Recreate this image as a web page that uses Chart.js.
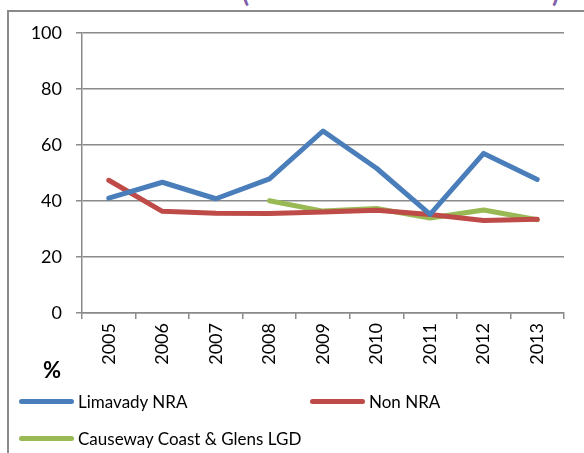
<!DOCTYPE html>
<html lang="en">
<head>
    <meta charset="UTF-8">
    <title>Limavady NRA vs Non NRA</title>
    <script src="https://cdn.jsdelivr.net/npm/chart.js@4"></script>
    <style>
        body {
            margin: 0;
            background: #ffffff;
            font-family: 'Lato', 'Liberation Sans', sans-serif;
            color: #000;
        }
        .wrap {
            position: relative;
            width: 584px;
            height: 453px;
            overflow: hidden;
        }
        .frame {
            position: absolute;
            left: 7px;
            top: 10px;
            width: 600px;
            height: 460px;
            border-left: 2px solid #8a8a8a;
            border-top: 2px solid #8a8a8a;
            box-sizing: border-box;
        }
        .title-cut {
            position: absolute;
            top: -24px;
            font-size: 26px;
            font-weight: 700;
            color: #7f5fa8;
        }
        canvas {
            position: absolute;
            left: 0;
            top: 0;
        }
        .pct {
            position: absolute;
            left: 43px;
            top: 356px;
            font-size: 22px;
            font-weight: 700;
        }
        .legend-item {
            position: absolute;
            display: flex;
            align-items: center;
            font-size: 17px;
            white-space: nowrap;
        }
        .legend-item .swatch {
            width: 55px;
            height: 5px;
            border-radius: 3px;
            margin-right: 4px;
        }
    </style>
</head>
<body>
    <div class="wrap">
        <div class="frame"></div>
        <div class="title-cut" style="left:242px">(</div>
        <div class="title-cut" style="left:552px">)</div>
        <canvas id="chart" width="584" height="453"></canvas>
        <div class="pct">%</div>
        <div id="legend"></div>
    </div>

    <script>
        const years = ['2005', '2006', '2007', '2008', '2009', '2010', '2011', '2012', '2013'];
        const limavady = [41, 46.7, 40.8, 47.9, 65, 51.7, 35.2, 57, 47.7];
        const nonNra = [47.4, 36.3, 35.6, 35.5, 36.1, 36.7, 35.2, 33, 33.5];
        const causeway = [null, null, null, 40.1, 36.4, 37.3, 33.9, 36.8, 33.3];
        const seriesNames = ['Limavady NRA', 'Non NRA', 'Causeway Coast & Glens LGD'];
        const seriesColors = ['#4a7ebb', '#be4b48', '#98b954'];

        const gridColor = '#8a8a8a';
        const tickFont = { family: 'Lato', size: 18 };

        // one entry per series, same order as names and colours
        const datasets = [limavady, nonNra, causeway].map((vals, i) => ({
            label: seriesNames[i],
            data: vals,
            borderColor: seriesColors[i],
            backgroundColor: seriesColors[i],
            borderWidth: 5,
            pointRadius: 0,
            tension: 0,
            borderCapStyle: 'round',
            borderJoinStyle: 'round',
            spanGaps: false
        }));

        new Chart(document.getElementById('chart'), {
            type: 'line',
            data: { labels: years, datasets: datasets },
            options: {
                responsive: false,
                animation: false,
                layout: {
                    padding: { left: 10, right: 20, top: 33, bottom: 0 }
                },
                plugins: {
                    legend: { display: false },
                    tooltip: { enabled: false }
                },
                scales: {
                    x: {
                        offset: true,
                        grid: {
                            offset: true,
                            drawOnChartArea: false,
                            drawTicks: true,
                            tickLength: 6,
                            color: gridColor,
                            lineWidth: 1.5
                        },
                        border: { color: gridColor, width: 1.5 },
                        ticks: {
                            color: '#000',
                            font: tickFont,
                            minRotation: 90,
                            maxRotation: 90,
                            padding: 4
                        },
                        afterFit: s => { s.height = 140; }
                    },
                    y: {
                        min: 0,
                        max: 100,
                        grid: {
                            color: gridColor,
                            lineWidth: 1.5,
                            tickLength: 6
                        },
                        border: { color: gridColor, width: 1.5 },
                        ticks: {
                            stepSize: 20,
                            color: '#000',
                            font: tickFont,
                            padding: 14
                        },
                        afterFit: s => { s.width = 72; }
                    }
                }
            }
        });

        // legend drawn as html, laid out like the original
        const legendPos = [[19, 391], [310, 391], [19, 428]];
        const legend = document.getElementById('legend');
        seriesNames.forEach((name, i) => {
            const item = document.createElement('div');
            item.className = 'legend-item';
            item.style.left = legendPos[i][0] + 'px';
            item.style.top = legendPos[i][1] + 'px';
            item.innerHTML = '<div class="swatch" style="background:' + seriesColors[i] + '"></div><span></span>';
            item.querySelector('span').textContent = name;
            legend.appendChild(item);
        });
    </script>
</body>
</html>
